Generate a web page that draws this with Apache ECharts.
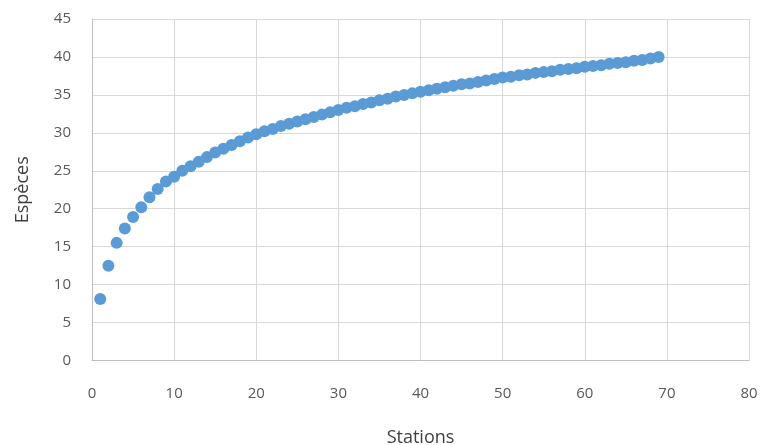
<!DOCTYPE html>
<html>
<head>
<meta charset="utf-8">
<script src="https://cdn.jsdelivr.net/npm/echarts@6/dist/echarts.min.js"></script>
<style>html,body{margin:0;padding:0;background:#fff}#c{width:760px;height:445px}</style>
</head>
<body>
<div id="c"></div>
<script>
var stations = [];
for (var i = 1; i <= 69; i++) stations.push(i);
var especes = [
  8.1, 12.5, 15.5, 17.4, 18.9, 20.2, 21.5, 22.6, 23.6, 24.2,
  25.0, 25.6, 26.2, 26.8, 27.4, 27.9, 28.4, 28.9, 29.4, 29.8,
  30.2, 30.5, 30.9, 31.2, 31.5, 31.8, 32.1, 32.4, 32.7, 33.0,
  33.3, 33.5, 33.8, 34.0, 34.3, 34.5, 34.8, 35.0, 35.2, 35.4,
  35.6, 35.8, 36.0, 36.2, 36.4, 36.5, 36.7, 36.9, 37.1, 37.3,
  37.4, 37.6, 37.7, 37.9, 38.0, 38.1, 38.3, 38.4, 38.5, 38.7,
  38.8, 38.9, 39.1, 39.2, 39.3, 39.5, 39.6, 39.8, 40.0
];
var xTitle = 'Stations';
var yTitle = 'Espèces';

var pts = stations.map(function (s, k) { return [s, especes[k]]; });
var chart = echarts.init(document.getElementById('c'), null, {renderer: 'canvas'});
var font = '"Open Sans", sans-serif';
chart.setOption({
  animation: false,
  backgroundColor: '#ffffff',
  grid: {left: 92, right: 11, top: 19, bottom: 84.5, containLabel: false, outerBoundsMode: 'none'},
  xAxis: {
    type: 'value', min: 0, max: 80, interval: 10,
    name: xTitle, nameLocation: 'middle', nameGap: 68,
    nameTextStyle: {color: '#404040', fontSize: 18, fontFamily: font},
    axisLine: {show: true, lineStyle: {color: '#bfbfbf', width: 1}},
    axisTick: {show: false},
    axisLabel: {color: '#595959', fontSize: 15, fontFamily: font, margin: 26},
    splitLine: {show: true, lineStyle: {color: '#d9d9d9', width: 1}}
  },
  yAxis: {
    type: 'value', min: 0, max: 45, interval: 5,
    name: yTitle, nameLocation: 'middle', nameGap: 60, nameRotate: 90,
    nameTextStyle: {color: '#404040', fontSize: 18, fontFamily: font},
    axisLine: {show: true, lineStyle: {color: '#bfbfbf', width: 1}},
    axisTick: {show: false},
    axisLabel: {color: '#595959', fontSize: 15, fontFamily: font, margin: 21},
    splitLine: {show: true, lineStyle: {color: '#d9d9d9', width: 1}}
  },
  series: [{
    type: 'scatter',
    data: pts,
    symbol: 'circle',
    symbolSize: 12,
    itemStyle: {color: '#5B9BD5', opacity: 1}
  }]
});
</script>
</body>
</html>
